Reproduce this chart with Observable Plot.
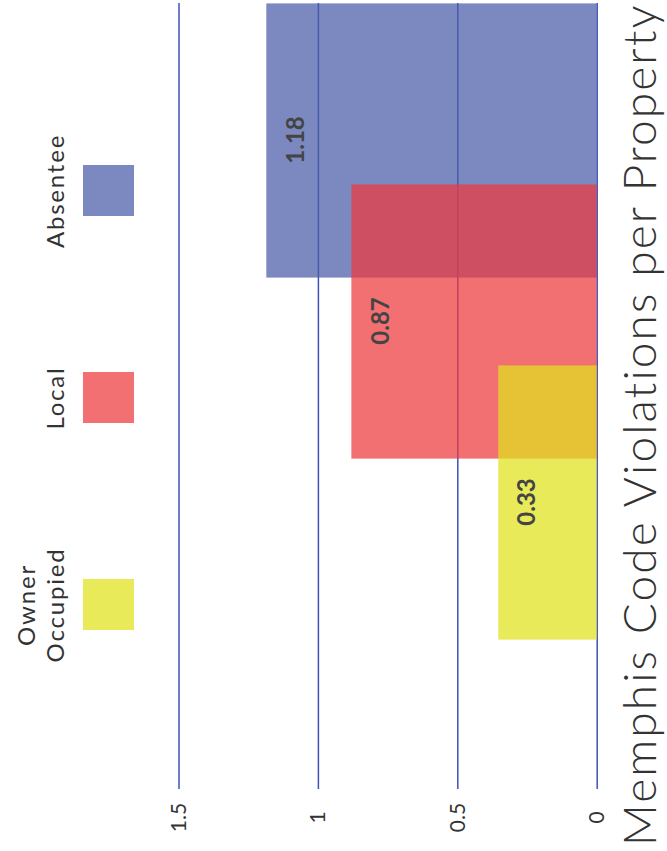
<!DOCTYPE html>
<html>
<head>
<meta charset="utf-8">
<script src="https://cdn.jsdelivr.net/npm/d3@7"></script>
<script src="https://cdn.jsdelivr.net/npm/@observablehq/plot@0.6"></script>
<style>
  html, body { margin: 0; padding: 0; background: #fff; overflow: hidden; }
  #chart {
    position: absolute; left: 0; top: 0; width: 851px; height: 667px;
    transform-origin: 0 0; transform: translate(0, 851px) rotate(-90deg);
    font-family: Lato, "Open Sans", sans-serif; color: #333; overflow: hidden;
  }
  #legend {
    position: absolute; left: 142.5px; top: 0; height: 150px;
    display: flex; flex-direction: row;
  }
  .item { position: relative; width: 207px; height: 150px; }
  .lab {
    position: absolute; left: 0; right: 0; top: 0; height: 69px;
    display: flex; align-items: flex-end; justify-content: center;
    text-align: center; font-size: 24px; line-height: 29px; letter-spacing: 1.8px; color: #333;
    padding: 0 38px;
  }
  .sw { position: absolute; left: 78px; top: 83px; width: 51px; height: 51px; }
  #plot { position: absolute; left: 0; top: 150px; }
  #title {
    position: absolute; left: 5px; top: 616px; font-size: 46px; line-height: 46px;
    font-weight: 300; white-space: nowrap; color: #333; letter-spacing: 2.1px;
  }
</style>
</head>
<body>
<div id="chart">
  <div id="legend"></div>
  <div id="plot"></div>
  <div id="title"></div>
</div>
<script>
const titleText = "Memphis Code Violations per Property";
const categories = ["Owner Occupied", "Local", "Absentee"];
const values = [0.353, 0.88, 1.185];
const valueLabels = ["0.33", "0.87", "1.18"];
const colors = ["rgb(223,226,29)", "rgb(237,58,62)", "rgb(74,93,169)"];
const yTicks = [0, 0.5, 1, 1.5];
const yTickLabels = ["0", "0.5", "1", "1.5"];

const data = categories.map((c, i) => ({category: c, value: values[i], label: valueLabels[i]}));
const drawOrder = data.slice().reverse();

const W = 851, H = 470;

const plot = Plot.plot({
  width: W,
  height: H,
  marginLeft: 62,
  marginRight: 3,
  marginTop: 28.5,
  marginBottom: 23.3,
  style: {fontFamily: "Lato, 'Open Sans', sans-serif", background: "transparent", overflow: "visible"},
  x: {domain: categories, range: [257.4, 801.1], padding: 0, axis: null},
  y: {domain: [0, 1.5], range: [446.7, 28.5]},
  color: {domain: categories, range: colors},
  marks: [
    Plot.ruleY(yTicks, {stroke: "#3f51b5", strokeWidth: 1.5}),
    Plot.axisY(yTicks, {
      tickSize: 0, tickPadding: 29, textAnchor: "middle",
      tickFormat: (d) => yTickLabels[yTicks.indexOf(d)],
      fontSize: 21, fill: "#333", label: null
    }),
    Plot.barY(drawOrder, {
      x: "category", y: "value", fill: "category", fillOpacity: 0.73,
      insetLeft: -46.6, insetRight: -46.6
    }),
    Plot.text(drawOrder, {
      x: "category", y: "value", text: "label", dy: 29,
      fontSize: 24, fontWeight: "bold", fill: "#444", lineAnchor: "middle"
    })
  ]
});
document.getElementById("plot").appendChild(plot);

// legend built from the chart's color scale
const colorScale = plot.scale("color");
const legend = document.getElementById("legend");
categories.forEach((c) => {
  const item = document.createElement("div");
  item.className = "item";
  const lab = document.createElement("div");
  lab.className = "lab";
  lab.textContent = c;
  item.appendChild(lab);
  const sw = document.createElement("div");
  sw.className = "sw";
  sw.style.background = colorScale.apply(c);
  sw.style.opacity = 0.73;
  item.appendChild(sw);
  legend.appendChild(item);
});
document.getElementById("title").textContent = titleText;
</script>
</body>
</html>
